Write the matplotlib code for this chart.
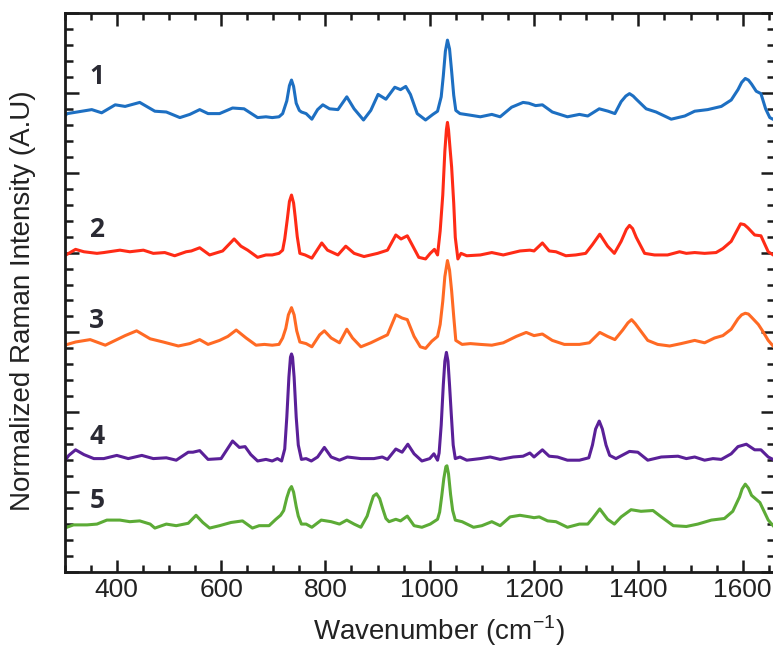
import numpy as np
import matplotlib.pyplot as plt
from matplotlib.ticker import MultipleLocator

plt.rcParams['font.family'] = ['Liberation Sans', 'DejaVu Sans']
plt.rcParams['mathtext.fontset'] = 'custom'
plt.rcParams['mathtext.rm'] = 'Liberation Sans'

# Raman spectra (wavenumber in cm-1, normalized intensity above each baseline)
wn_1 = [300, 305, 324, 352, 371, 397, 416, 444, 473, 495, 521, 540, 559, 575, 597, 622, 644, 670, 686,
        698, 711, 718, 726, 731, 735, 739, 744, 750, 754, 763, 774, 785, 795, 808, 824, 841, 855, 873,
        887, 901, 916, 933, 944, 954, 963, 976, 992, 1006, 1015, 1022, 1026, 1030, 1034, 1038, 1042,
        1046, 1050, 1058, 1078, 1097, 1119, 1135, 1157, 1179, 1190, 1203, 1216, 1235, 1264, 1287, 1303,
        1325, 1342, 1355, 1367, 1376, 1383, 1390, 1396, 1415, 1434, 1463, 1489, 1508, 1533, 1559, 1578,
        1591, 1598, 1605, 1611, 1617, 1626, 1635, 1644, 1652, 1661]
i_1 = [.06, .09, .11, .14, .10, .20, .18, .23, .12, .11, .04, .08, .14, .09, .09, .16, .15, .04, .05,
       .04, .05, .09, .25, .44, .51, .43, .22, .13, .11, .09, .02, .14, .20, .15, .14, .30, .15, .01,
       .13, .33, .27, .42, .39, .43, .33, .09, .01, .08, .12, .30, .56, .87, 1.01, .90, .62,
       .32, .13, .09, .07, .05, .08, .05, .17, .23, .22, .19, .20, .11, .05, .08, .06,
       .15, .12, .09, .24, .31, .34, .31, .27, .15, .11, .02, .06, .12, .14, .18, .26,
       .39, .48, .53, .51, .46, .37, .34, .15, .04, .01]

wn_2 = [300, 321, 337, 362, 375, 406, 425, 451, 470, 492, 511, 533, 543, 559, 578, 603, 625, 638, 651,
        670, 686, 698, 711, 718, 722, 727, 731, 735, 739, 742, 746, 751, 761, 774, 793, 804, 824, 839,
        855, 874, 900, 919, 935, 945, 957, 966, 979, 992, 1001, 1009, 1015, 1020, 1025, 1029, 1032,
        1034, 1036, 1039, 1042, 1046, 1049, 1054, 1060, 1071, 1097, 1119, 1141, 1173, 1192, 1200, 1216,
        1229, 1242, 1261, 1280, 1299, 1312, 1326, 1341, 1354, 1367, 1377, 1383, 1389, 1396, 1412, 1431,
        1456, 1479, 1492, 1508, 1527, 1549, 1562, 1578, 1596, 1603, 1610, 1623, 1635, 1649, 1661]
i_2 = [.04, .12, .09, .07, .08, .11, .09, .11, .07, .08, .04, .09, .10, .14, .05, .10, .25, .16, .11,
       .02, .05, .05, .07, .11, .25, .50, .72, .80, .70, .53, .28, .07, .05, .01, .20, .11, .05, .16,
       .07, .03, .07, .11, .30, .25, .29, .18, .02, .00, .07, .12, .05, .35, .80, 1.35, 1.62,
       1.71, 1.62, 1.38, 1.15, .70, .27, .00, .07, .04, .05, .08, .05, .10, .11, .10, .20,
       .10, .09, .04, .05, .07, .18, .31, .16, .07, .22, .37, .42, .38, .27, .07, .05,
       .05, .09, .07, .08, .07, .08, .13, .22, .44, .43, .39, .30, .29, .09, .04]

wn_3 = [300, 321, 349, 378, 416, 438, 464, 489, 518, 540, 559, 575, 597, 613, 629, 648, 667, 683, 698,
        711, 718, 724, 729, 735, 740, 745, 751, 763, 774, 789, 798, 811, 827, 841, 852, 868, 887, 906,
        919, 935, 947, 957, 970, 982, 992, 1004, 1015, 1020, 1025, 1029, 1034, 1038, 1042, 1046, 1050,
        1062, 1078, 1097, 1119, 1141, 1166, 1185, 1200, 1216, 1235, 1258, 1287, 1306, 1326, 1341, 1355,
        1370, 1380, 1387, 1394, 1402, 1418, 1437, 1460, 1482, 1508, 1527, 1546, 1562, 1578, 1591, 1598,
        1605, 1611, 1617, 1630, 1639, 1649, 1661]
i_3 = [.04, .08, .11, .04, .16, .22, .12, .08, .03, .06, .11, .05, .10, .15, .23, .13, .04, .05, .04,
       .05, .13, .25, .42, .51, .42, .22, .08, .06, .02, .17, .22, .13, .07, .24, .13, .02, .07, .13,
       .17, .42, .38, .36, .15, .02, .00, .09, .15, .30, .59, .90, 1.10, .98, .72, .40, .10,
       .05, .06, .05, .04, .07, .15, .20, .16, .18, .10, .05, .05, .07, .20, .15, .11,
       .23, .32, .36, .31, .24, .10, .05, .03, .06, .10, .07, .13, .16, .24, .37, .42,
       .44, .43, .39, .30, .21, .10, .01]

wn_4 = [300, 308, 321, 337, 356, 375, 400, 422, 448, 470, 495, 514, 537, 546, 559, 575, 600, 622, 635,
        646, 657, 670, 686, 698, 708, 716, 722, 726, 730, 733, 735, 737, 740, 744, 748, 754, 763, 773,
        785, 798, 811, 827, 842, 868, 893, 909, 919, 935, 947, 958, 970, 985, 1000, 1008, 1015, 1018,
        1022, 1026, 1029, 1032, 1035, 1038, 1041, 1045, 1049, 1058, 1071, 1097, 1116, 1135, 1160, 1179,
        1192, 1200, 1216, 1229, 1245, 1264, 1287, 1305, 1312, 1318, 1325, 1331, 1338, 1345, 1357, 1383,
        1399, 1418, 1444, 1476, 1492, 1508, 1527, 1543, 1559, 1578, 1591, 1607, 1623, 1635, 1649, 1661]
i_4 = [.00, .07, .14, .08, .03, .03, .07, .03, .07, .03, .04, .01, .11, .11, .13, .02, .03, .25, .17,
       .18, .08, .00, .02, .00, .03, .00, .15, .55, 1.05, 1.30, 1.34, 1.30, 1.05, .55, .20, .02, .03, .00,
       .05, .17, .05, .01, .05, .03, .03, .05, .02, .15, .11, .21, .09, .00, .03, .09, .01, .10,
       .45, .95, 1.25, 1.36, 1.25, .95, .62, .20, .03, .05, .01, .03, .05, .02, .05, .06,
       .10, .05, .14, .06, .05, .01, .01, .04, .20, .40, .50, .40, .20, .07, .03, .12,
       .11, .01, .05, .06, .03, .05, .01, .03, .02, .09, .18, .21, .14, .14, .05, .01]

wn_5 = [300, 317, 343, 362, 381, 406, 425, 444, 464, 473, 495, 514, 537, 552, 565, 578, 597, 619, 641,
        660, 673, 692, 705, 714, 720, 726, 731, 735, 739, 744, 748, 754, 763, 774, 792, 811, 827, 841,
        855, 868, 880, 886, 892, 898, 904, 910, 916, 922, 935, 944, 957, 970, 985, 1001, 1015, 1019,
        1023, 1027, 1031, 1033, 1036, 1040, 1044, 1049, 1062, 1084, 1100, 1119, 1135, 1154, 1173, 1192,
        1200, 1210, 1226, 1242, 1264, 1287, 1303, 1312, 1326, 1341, 1354, 1367, 1386, 1405, 1428, 1444,
        1467, 1492, 1514, 1540, 1565, 1581, 1594, 1599, 1605, 1611, 1617, 1633, 1649, 1661]
i_5 = [.00, .04, .04, .05, .10, .10, .08, .09, .05, .00, .05, .03, .06, .16, .07, .00, .03, .07, .09,
       .00, .03, .03, .11, .16, .22, .38, .48, .52, .45, .27, .15, .05, .05, .01, .10, .08, .05, .10,
       .05, .01, .15, .28, .40, .43, .37, .24, .12, .08, .11, .09, .15, .03, .01, .05, .11, .20,
       .40, .62, .77, .78, .68, .42, .22, .10, .08, .01, .03, .08, .03, .14, .16, .14,
       .13, .14, .09, .08, .01, .05, .05, .12, .24, .11, .05, .14, .23, .21, .22, .14,
       .03, .02, .05, .10, .12, .21, .39, .49, .55, .50, .41, .32, .10, .01]

spectra = [(wn_1, i_1), (wn_2, i_2), (wn_3, i_3), (wn_4, i_4), (wn_5, i_5)]
offsets = [5.65, 3.92, 2.80, 1.39, 0.55]
colors = ['#1d6fc2', '#ff2b16', '#ff6a24', '#5a2098', '#5cab36']
names = ['1', '2', '3', '4', '5']
name_y = [6.21, 4.29, 3.15, 1.70, 0.90]

fig = plt.figure(figsize=(7.73, 6.52), dpi=100)
ax = fig.add_axes([0.0836, 0.1227, 0.919, 0.8574])

for (wn, inten), off, col in zip(spectra, offsets, colors):
    ax.plot(wn, np.array(inten) + off, color=col, lw=2.2,
            solid_joinstyle='round', solid_capstyle='round')

for name, yy in zip(names, name_y):
    ax.text(362, yy, name, fontsize=19, fontweight='bold', color='#2a2a33',
            ha='center', va='center', family=['Open Sans', 'DejaVu Sans'])

ax.set_xlim(300, 1662)
ax.set_ylim(0, 7)
ax.xaxis.set_major_locator(MultipleLocator(200))
ax.xaxis.set_minor_locator(MultipleLocator(50))
ax.yaxis.set_major_locator(MultipleLocator(1))
ax.yaxis.set_minor_locator(MultipleLocator(0.2))

ax.tick_params(axis='both', which='both', direction='in', top=True, right=True,
               width=1.8, color='#1a1a1a')
ax.tick_params(axis='x', which='major', length=9, pad=4, labelsize=19, labelcolor='#222222')
ax.tick_params(axis='x', which='minor', length=5)
ax.tick_params(axis='y', which='major', length=10, labelleft=False)
ax.tick_params(axis='y', which='minor', length=5.5)
for sp in ax.spines.values():
    sp.set_linewidth(2.0)
    sp.set_color('#1a1a1a')

ax.set_xlabel(r'Wavenumber (cm$^{-1}$)', fontsize=20, color='#222222', va='baseline')
ax.xaxis.set_label_coords(0.527, -0.122)
ax.set_ylabel('Normalized Raman Intensity (A.U)', fontsize=20, color='#222222', va='center')
ax.yaxis.set_label_coords(-0.0586, 0.485)

fig.savefig('out.png', dpi=100)
